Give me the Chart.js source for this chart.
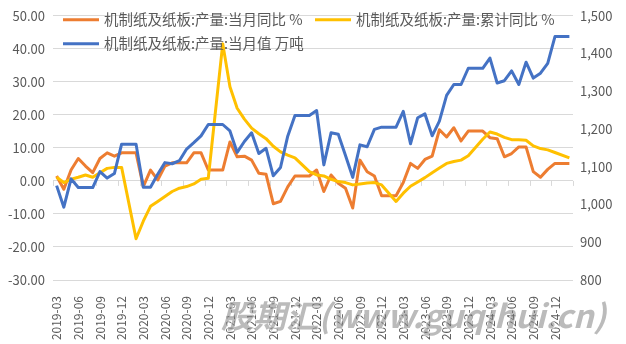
<!DOCTYPE html>
<html>
<head>
<meta charset="utf-8">
<script src="https://cdn.jsdelivr.net/npm/chart.js@4"></script>
<style>
  html, body { margin: 0; padding: 0; background: #fff; }
  #wrap { width: 626px; height: 344px; position: relative; }
</style>
</head>
<body>
<div id="wrap"><canvas id="paperChart"></canvas></div>
<script>
// 机制纸及纸板产量：当月同比、累计同比（左轴 %），当月值（右轴 万吨）
const months = [
  '2019-03','2019-04','2019-05','2019-06','2019-07','2019-08','2019-09','2019-10','2019-11','2019-12',
  '2020-01','2020-02','2020-03','2020-04','2020-05','2020-06','2020-07','2020-08','2020-09','2020-10','2020-11','2020-12',
  '2021-01','2021-02','2021-03','2021-04','2021-05','2021-06','2021-07','2021-08','2021-09','2021-10','2021-11','2021-12',
  '2022-01','2022-02','2022-03','2022-04','2022-05','2022-06','2022-07','2022-08','2022-09','2022-10','2022-11','2022-12',
  '2023-01','2023-02','2023-03','2023-04','2023-05','2023-06','2023-07','2023-08','2023-09','2023-10','2023-11','2023-12',
  '2024-01','2024-02','2024-03','2024-04','2024-05','2024-06','2024-07','2024-08','2024-09','2024-10','2024-11','2024-12',
  '2025-01','2025-02'
];

// 1月无单独数据，留空
const yoyMonth = [
  1.5, -2.5, 3.3, 6.8, 4.5, 2.5, 6.8, 8.5, 7.5, 8.5,
  null, 8.5, -1.7, 3.3, 0.3, 4.5, 5.5, 5.5, 5.5, 8.5, 8.5, 3.3,
  null, 3.3, 11.8, 7.3, 7.5, 6.3, 2.3, 2.0, -6.9, -6.2, -1.8, 1.5,
  null, 1.5, 3.3, -3.2, 1.8, -0.7, -2.2, -8.2, 6.3, 2.8, 1.5, -4.5,
  null, -4.5, -0.5, 5.3, 3.8, 6.5, 7.5, 15.5, 13.3, 16.1, 12.1, 15.1,
  null, 15.1, 13.1, 12.8, 7.3, 8.3, 10.3, 10.3, 2.8, 1.1, 3.5, 5.3,
  null, 5.3
];

const yoyCumulative = [
  1.1, -0.5, 0.5, 1.1, 1.8, 1.1, 2.5, 3.8, 4.1, 4.1,
  null, -17.5, -12.2, -7.7, -6.2, -4.7, -3.2, -2.2, -1.7, -0.9, 0.5, 0.8,
  null, 41.5, 28.5, 22.0, 18.7, 16.0, 14.3, 12.8, 10.5, 8.8, 7.8, 7.0,
  null, 2.8, 1.8, 1.5, 0.5, -0.2, -0.5, -1.2, -0.9, -0.6, -0.5, -1.2,
  null, -6.2, -3.7, -1.6, -0.3, 1.0, 2.5, 3.9, 5.3, 5.9, 6.3, 7.6,
  null, 12.6, 14.8, 14.2, 13.2, 12.5, 12.5, 12.3, 10.6, 9.8, 9.4, 8.6,
  null, 7.0
];

const outputMonth = [
  1050, 993, 1068, 1045, 1045, 1045, 1087, 1070, 1082, 1160,
  null, 1160, 1046, 1046, 1080, 1111, 1108, 1116, 1147, 1164, 1182, 1212,
  null, 1212, 1195, 1138, 1167, 1190, 1135, 1149, 1076, 1098, 1181, 1236,
  null, 1236, 1249, 1105, 1190, 1186, 1130, 1072, 1158, 1153, 1199, 1205,
  null, 1205, 1247, 1161, 1230, 1240, 1182, 1221, 1289, 1318, 1318, 1361,
  null, 1361, 1388, 1322, 1328, 1354, 1318, 1377, 1335, 1348, 1374, 1445,
  null, 1445
];

const seriesNames = [
  '机制纸及纸板:产量:当月同比 %',
  '机制纸及纸板:产量:累计同比 %',
  '机制纸及纸板:产量:当月值 万吨'
];
const seriesColors = ['#ED7D31', '#FFC000', '#4472C4'];

const leftTicks = { min: -30, max: 50, step: 10 };
const rightTicks = { min: 800, max: 1500, step: 100 };

const TXT = '#595959';
const GRID = '#D9D9D9';
const FONT = "'Microsoft YaHei', 'Noto Sans CJK SC', sans-serif";

// 图例画在绘图区内部：第一行两项，第二行一项
const insideLegend = {
  id: 'insideLegend',
  afterDatasetsDraw(chart) {
    const ctx = chart.ctx, a = chart.chartArea;
    const slots = [
      { x: a.left + 10, y: a.top + 4 },
      { x: a.left + 262, y: a.top + 4 },
      { x: a.left + 10, y: a.top + 28 }
    ];
    ctx.save();
    ctx.font = '14.5px ' + FONT;
    ctx.textBaseline = 'middle';
    chart.data.datasets.forEach((ds) => {
      const s = slots[ds.legendSlot];
      ctx.strokeStyle = ds.borderColor;
      ctx.lineWidth = 3;
      ctx.beginPath();
      ctx.moveTo(s.x, s.y);
      ctx.lineTo(s.x + 36, s.y);
      ctx.stroke();
      ctx.fillStyle = TXT;
      ctx.fillText(ds.label, s.x + 41, s.y);
    });
    ctx.restore();
  }
};

// 零线上的分类刻度
const zeroTicks = {
  id: 'zeroTicks',
  beforeDatasetsDraw(chart) {
    const x = chart.scales.x, y = chart.scales.y;
    const ctx = chart.ctx;
    const y0 = y.getPixelForValue(0);
    const half = (x.getPixelForValue(1) - x.getPixelForValue(0)) / 2;
    ctx.save();
    ctx.strokeStyle = GRID;
    ctx.lineWidth = 1;
    ctx.beginPath();
    for (let i = 2; i < months.length; i += 3) {
      const px = Math.round(x.getPixelForValue(i) + half) + 0.5;
      ctx.moveTo(px, y0);
      ctx.lineTo(px, y0 + 5);
    }
    const first = Math.round(x.getPixelForValue(0) - half) + 0.5;
    ctx.moveTo(first, y0);
    ctx.lineTo(first, y0 + 5);
    ctx.stroke();
    ctx.restore();
  }
};

// 水印
const watermark = {
  id: 'watermark',
  afterDraw(chart) {
    const ctx = chart.ctx;
    ctx.save();
    ctx.font = "bold italic 32px 'Noto Sans CJK SC', sans-serif";
    ctx.textBaseline = 'middle';
    const text = '股期汇(www.guqihui.cn)';
    const w = ctx.measureText(text).width;
    ctx.translate(221, 316);
    ctx.scale(385 / w, 1);
    ctx.lineWidth = 2;
    ctx.strokeStyle = 'rgba(255,255,255,0.6)';
    ctx.strokeText(text, 0, 0);
    ctx.fillStyle = 'rgba(120,120,120,0.5)';
    ctx.fillText(text, 0, 0);
    ctx.restore();
  }
};

new Chart(document.getElementById('paperChart'), {
  type: 'line',
  data: {
    labels: months,
    datasets: [
      { label: seriesNames[0], data: yoyMonth, yAxisID: 'y', borderColor: seriesColors[0], order: 2, legendSlot: 0 },
      { label: seriesNames[1], data: yoyCumulative, yAxisID: 'y', borderColor: seriesColors[1], order: 1, legendSlot: 1 },
      { label: seriesNames[2], data: outputMonth, yAxisID: 'y1', borderColor: seriesColors[2], order: 0, legendSlot: 2 }
    ].map(ds => Object.assign(ds, {
      backgroundColor: ds.borderColor,
      borderWidth: 3,
      pointRadius: 0,
      tension: 0,
      spanGaps: true,
      borderJoinStyle: 'round'
    }))
  },
  options: {
    responsive: true,
    maintainAspectRatio: false,
    animation: false,
    layout: { padding: { top: 14, left: 0, right: 0, bottom: 0 } },
    plugins: { legend: { display: false }, tooltip: { enabled: false } },
    scales: {
      x: {
        offset: true,
        grid: { display: false },
        border: { display: false },
        ticks: {
          autoSkip: false,
          minRotation: 90,
          maxRotation: 90,
          padding: 8,
          color: TXT,
          font: { size: 12, family: FONT },
          callback(v, i) { return i % 3 === 0 ? months[i] : ''; }
        },
        afterFit(s) { s.height = 64; }
      },
      y: {
        position: 'left',
        min: leftTicks.min,
        max: leftTicks.max,
        grid: { color: GRID, drawTicks: false },
        border: { display: false },
        ticks: {
          stepSize: leftTicks.step,
          padding: 8,
          color: TXT,
          font: { size: 13, family: FONT },
          callback(v) { return v.toFixed(2); }
        },
        afterFit(s) { s.width = 53; }
      },
      y1: {
        position: 'right',
        min: rightTicks.min,
        max: rightTicks.max,
        grid: { drawOnChartArea: false, drawTicks: false },
        border: { display: false },
        ticks: {
          stepSize: rightTicks.step,
          padding: 7,
          color: TXT,
          font: { size: 13, family: FONT },
          callback(v) { return v.toLocaleString('en-US'); }
        },
        afterFit(s) { s.width = 53; }
      }
    }
  },
  plugins: [zeroTicks, insideLegend, watermark]
});
</script>
</body>
</html>
